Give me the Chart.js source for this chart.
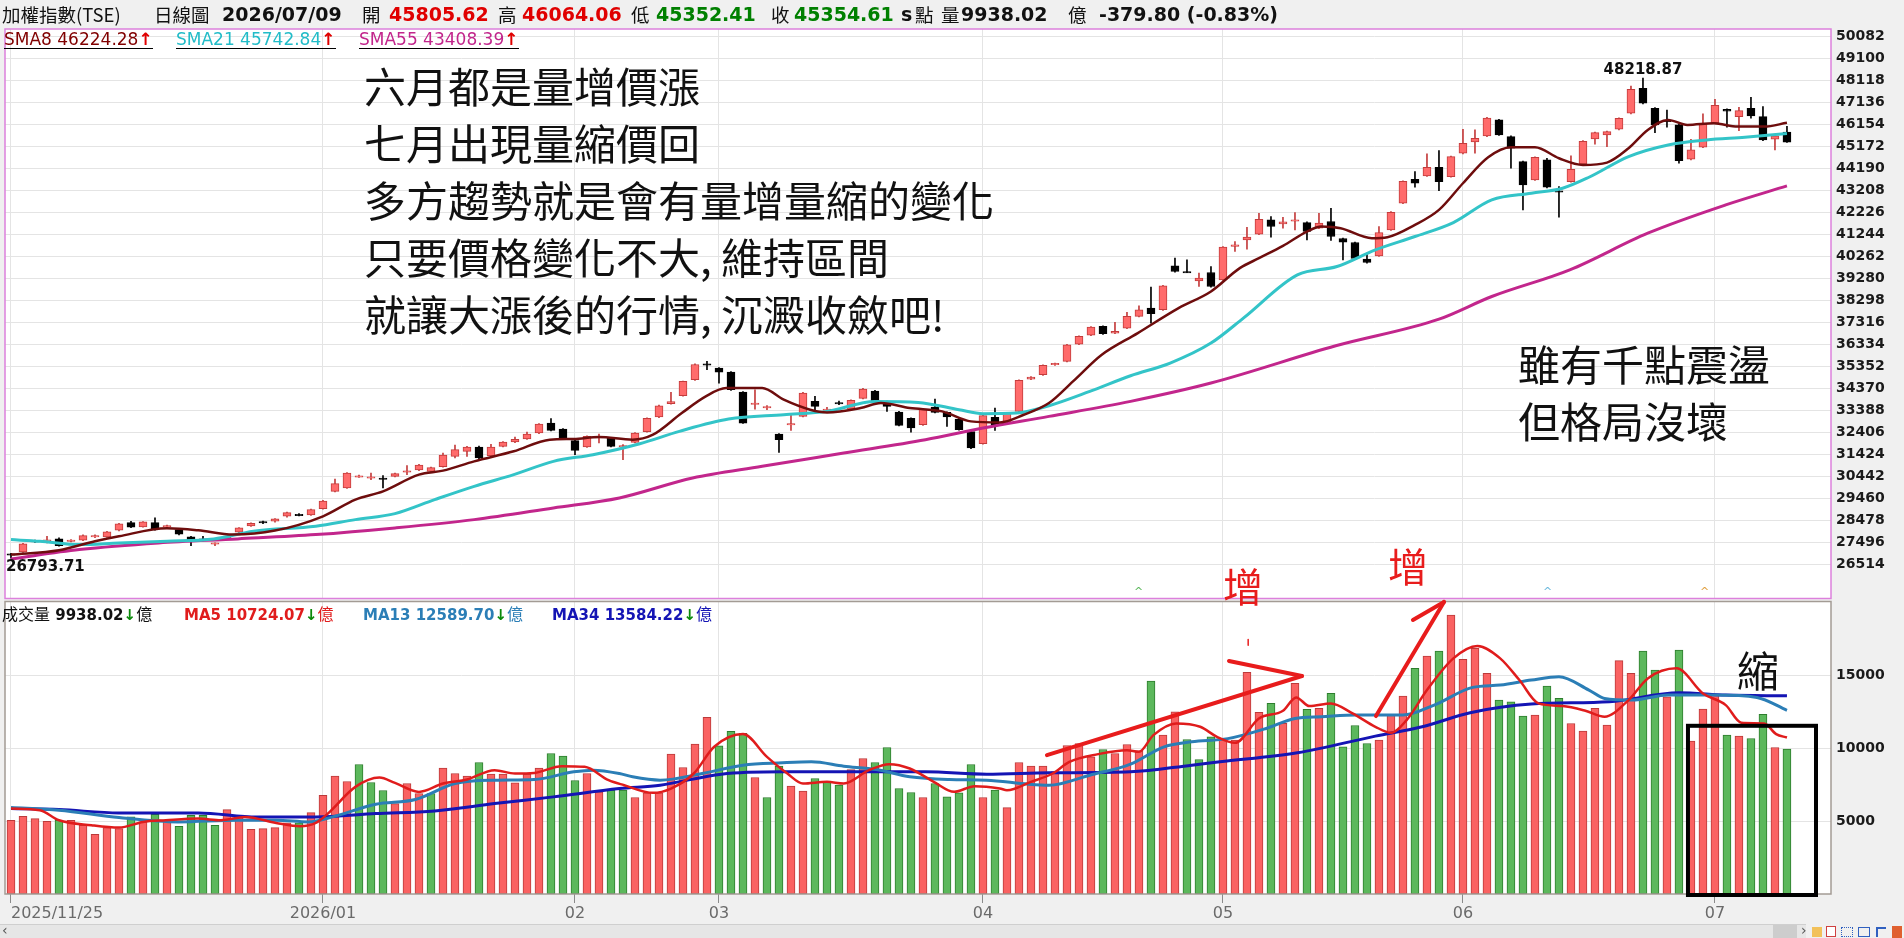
<!DOCTYPE html>
<html><head><meta charset="utf-8">
<script src="https://cdn.jsdelivr.net/npm/chart.js@4.4.1/dist/chart.umd.min.js"></script>
<style>
html,body{margin:0;padding:0;background:#f0f0f0;width:1904px;height:938px;overflow:hidden;font-family:'DejaVu Sans',sans-serif;}
.abs{position:absolute;white-space:nowrap;}
#c1{position:absolute;left:0;top:26px;}
#c2{position:absolute;left:0;top:598px;}
.hdr{position:absolute;top:3px;font-size:18.5px;line-height:22px;white-space:nowrap;color:#111;}
.cjk{font-family:'Noto Sans CJK TC','DejaVu Sans',sans-serif;}
.b{font-family:'DejaVu Sans',sans-serif;font-weight:bold;font-size:19px;}
.big{position:absolute;font-family:'Noto Sans CJK TC',sans-serif;font-size:42px;line-height:42px;color:#111;white-space:nowrap;}
.leg{position:absolute;top:31px;font-size:17px;line-height:17px;border-bottom:1.5px solid #000;white-space:nowrap;font-family:'DejaVu Sans',sans-serif;}
.up{color:#e00000;font-weight:bold;}
.vleg{position:absolute;top:604px;font-size:15px;line-height:18px;white-space:nowrap;font-weight:bold;font-family:'DejaVu Sans',sans-serif;}
.dn{color:#0a8a0a;font-weight:bold;}
.yi{font-family:'Noto Sans CJK TC',sans-serif;font-weight:normal;font-size:16px;}
</style></head>
<body>
<canvas id="c1" width="1904" height="574"></canvas>
<canvas id="c2" width="1904" height="326"></canvas>

<!-- header -->
<div class="hdr cjk" style="left:2px">加權指數(TSE)</div>
<div class="hdr cjk" style="left:154px">日線圖</div>
<div class="hdr b" style="left:222px">2026/07/09</div>
<div class="hdr cjk" style="left:362px">開</div>
<div class="hdr b" style="left:389px;color:#e00000">45805.62</div>
<div class="hdr cjk" style="left:498px">高</div>
<div class="hdr b" style="left:522px;color:#e00000">46064.06</div>
<div class="hdr cjk" style="left:631px">低</div>
<div class="hdr b" style="left:656px;color:#008000">45352.41</div>
<div class="hdr cjk" style="left:771px">收</div>
<div class="hdr b" style="left:794px;color:#008000">45354.61</div>
<div class="hdr b" style="left:901px">s</div>
<div class="hdr cjk" style="left:915px">點</div>
<div class="hdr cjk" style="left:941px">量</div>
<div class="hdr b" style="left:961px">9938.02</div>
<div class="hdr cjk" style="left:1068px">億</div>
<div class="hdr b" style="left:1099px">-379.80 (-0.83%)</div>

<!-- price legend -->
<div class="leg" style="left:4px;color:#800000">SMA8 46224.28<span class="up">↑</span></div>
<div class="leg" style="left:176px;color:#22bcc8">SMA21 45742.84<span class="up">↑</span></div>
<div class="leg" style="left:359px;color:#c2268c">SMA55 43408.39<span class="up">↑</span></div>

<!-- volume legend -->
<div class="vleg" style="left:2px;color:#111"><span class="yi">成交量</span> 9938.02<span class="dn">↓</span><span class="yi">億</span></div>
<div class="vleg" style="left:184px;color:#e01c1c">MA5 10724.07<span class="dn">↓</span><span class="yi">億</span></div>
<div class="vleg" style="left:363px;color:#2b7eb6">MA13 12589.70<span class="dn">↓</span><span class="yi">億</span></div>
<div class="vleg" style="left:552px;color:#1414b4">MA34 13584.22<span class="dn">↓</span><span class="yi">億</span></div>

<!-- annotations -->
<div class="big" style="left:364px;top:64px">六月都是量增價漲</div>
<div class="big" style="left:364px;top:121px">七月出現量縮價回</div>
<div class="big" style="left:364px;top:178px">多方趨勢就是會有量增量縮的變化</div>
<div class="big" style="left:364px;top:235px">只要價格變化不大, 維持區間</div>
<div class="big" style="left:364px;top:292px">就讓大漲後的行情, 沉澱收斂吧!</div>
<div class="big" style="left:1518px;top:342px">雖有千點震盪</div>
<div class="big" style="left:1518px;top:399px">但格局沒壞</div>
<div class="big" style="left:1223px;top:565px;font-size:40px;line-height:40px;color:#e81c1c">增</div>
<div class="big" style="left:1388px;top:545px;font-size:40px;line-height:40px;color:#e81c1c">增</div>
<div class="big" style="left:1737px;top:648px">縮</div>
<div class="abs" style="left:1134px;top:585px;font-size:11px;color:#5cb85c">^</div>
<div class="abs" style="left:1543px;top:585px;font-size:11px;color:#6ab8dc">^</div>
<div class="abs" style="left:1700px;top:585px;font-size:11px;color:#e0a040">^</div>

<!-- scrollbar -->
<div class="abs" style="left:0;top:924px;width:1806px;height:14px;background:#e6e6e6;border-top:1px solid #cfcfcf"></div>
<div class="abs" style="left:2px;top:922px;font-size:14px;color:#555">‹</div>
<div class="abs" style="left:1773px;top:925px;width:24px;height:13px;background:#cdcdcd"></div>
<div class="abs" style="left:1801px;top:922px;font-size:14px;color:#555">›</div>
<div class="abs" style="left:1812px;top:927px;width:10px;height:10px;background:#f2c15a"></div>
<div class="abs" style="left:1826px;top:926px;width:10px;height:11px;border:1px solid #d04040;box-sizing:border-box;background:#fff"></div>
<div class="abs" style="left:1841px;top:927px;width:12px;height:10px;border:1px dotted #3060c0;box-sizing:border-box"></div>
<div class="abs" style="left:1858px;top:927px;width:12px;height:10px;border:1px solid #3060c0;box-sizing:border-box"></div>
<div class="abs" style="left:1876px;top:927px;width:10px;height:10px;border-left:2px solid #3060c0;border-top:2px solid #3060c0;box-sizing:border-box"></div>
<div class="abs" style="left:1892px;top:926px;width:10px;height:12px;background:#e06030"></div>

<script>
// ---------------- DATA ----------------
const tickIdx = [0, 26, 47, 59, 81, 101, 121, 142];
const tickLabels = ['2025/11/25', '2026/01', '02', '03', '04', '05', '06', '07'];
const priceTicks = [50082,49100,48118,47136,46154,45172,44190,43208,42226,41244,40262,39280,38298,37316,36334,35352,34370,33388,32406,31424,30442,29460,28478,27496,26514];
const volTicks = [5000, 10000, 15000];

// [open, high, low, close]
const ohlc = [
[26980,27010,26793.71,26930],[27069,27450,27050,27426],[27560,27600,27490,27530],[27560,27768,27470,27590],[27649,27700,27330,27352],
[27550,27620,27520,27590],[27590,27830,27570,27798],[27750,27830,27700,27780],[27738,27990,27720,27961],[28035,28340,28010,28318],
[28377,28440,28150,28169],[28184,28420,28170,28407],[28377,28586,28040,28065],[28190,28270,28170,28230],[28065,28080,27830,27857],
[27738,27760,27352,27545],[27640,27768,27560,27610],[27430,27480,27352,27450],[27680,27720,27640,27700],[27946,28160,27930,28140],
[28229,28370,28210,28348],[28400,28450,28330,28385],[28437,28560,28400,28541],[28660,28850,28620,28824],[28730,28780,28680,28715],
[28720,28980,28700,28957],[29002,29370,28980,29344],[29775,30325,29750,30117],[29924,30610,29900,30593],[30420,30500,30390,30460],
[30380,30593,30296,30410],[30370,30474,29924,30310],[30444,30590,30420,30563],[30640,30920,30519,30680],[30727,30980,30700,30950],
[30667,30860,30640,30831],[30876,31485,30850,31396],[31337,31842,31262,31634],[31560,31780,31337,31753],[31753,31790,31230,31262],
[31366,31872,31340,31753],[31783,32000,31760,31976],[31976,32199,31950,32095],[32110,32422,32090,32333],[32378,32800,32350,32779],
[32824,33017,32470,32496],[32556,32580,32110,32140],[32036,32060,31411,31604],[31753,32250,31730,32229],[32170,32333,31932,32200],
[32140,32170,31760,31782],[31770,31856,31187,31800],[31960,32400,31940,32376],[32436,33050,32410,33031],[33090,33620,33060,33596],
[33685,34190,33660,33775],[34042,34700,34020,34681],[34755,35460,34730,35435],[35450,35573,35201,35430],[35276,35300,34607,35097],
[35097,35120,34280,34309],[34205,34230,32800,32822],[33660,34309,33447,33700],[33510,33600,33420,33550],[32331,32350,31514,32079],
[32740,33194,32495,32790],[33120,34190,33090,34161],[33789,34012,33417,33566],[33400,33520,33300,33430],[33720,33800,33640,33690],
[33447,33860,33420,33833],[33923,34370,33900,34339],[34250,34280,33760,33789],[33744,33800,33343,33566],[33313,33340,32690,32718],
[33031,33060,32420,32600],[32748,33470,32720,33447],[33536,33893,33270,33298],[33298,33320,32674,33090],[33001,33030,32500,32525],
[32436,32460,31680,31707],[31900,33180,31880,33150],[33075,33492,32495,32718],[32793,33298,32770,33268],[33343,34750,33320,34726],
[34785,34900,34760,34874],[34979,35420,34950,35395],[35440,35500,35400,35470],[35574,36340,35550,36317],[36347,36710,36320,36689],
[36748,37130,36720,37105],[37135,37160,36780,36808],[36837,37313,36810,36912],[37060,37759,37030,37581],[37581,38056,37560,37878],
[37953,38889,37283,37700],[37878,38970,37850,38949],[39841,40183,39560,39588],[39560,40109,39530,39544],[39172,39514,38919,39291],
[39544,39811,38890,38919],[39216,40700,39190,40674],[40702,40925,40479,40776],[41000,41564,40583,41118],[41252,42189,41230,41921],
[41891,42040,41118,41594],[41713,42010,41520,41802],[41840,42219,41445,41880],[41772,41800,40999,41371],[41520,42189,41500,41743],
[41817,42412,40969,41148],[41059,41080,40107,40895],[40880,40900,40140,40166],[40136,40404,39960,39988],[40285,41594,40260,41326],
[41445,42260,41420,42233],[42635,43640,42610,43616],[43705,44048,43349,43527],[43854,44835,43830,44240],[44240,44984,43200,43601],
[43824,44740,43800,44716],[44865,45936,44840,45311],[45371,45906,44865,45534],[45638,46470,45610,46441],[46352,46380,45660,45683],
[45609,45640,44196,45088],[44493,44520,42337,43453],[43676,44710,43650,44686],[44568,44642,43320,43349],[43170,43378,42010,43140],
[43601,44746,43580,44151],[44389,45430,44360,45400],[45504,45810,45266,45787],[45683,45860,45163,45832],[45936,46450,45910,46426],
[46650,47869,46620,47720],[47765,48218.87,47070,47096],[46872,46900,45787,46129],[46330,46798,46025,46290],[46129,46160,44419,44538],
[44597,45490,44570,45014],[45133,46620,45110,46204],[46233,47274,46210,47007],[46828,46850,46025,46739],[46501,46917,45877,46769],
[46872,47363,46426,46531],[46501,46947,45430,45460],[45490,45660,45014,45638],[45805.62,46064.06,45352.41,45354.61]
];

const volume = [
5056,5330,5170,4987,5056,5056,4713,4095,4553,4484,
5284,4941,5467,5056,4644,5399,5399,4713,5788,5284,
4438,4484,4553,4873,4873,5582,6772,8076,7710,8877,
7641,7092,6200,7572,6886,6886,8625,8259,8076,9014,
8213,8213,7618,8213,8625,9632,9449,7779,8259,7000,
7100,7115,6612,6932,6932,9587,8672,10273,12103,10158,
11142,11005,7985,6612,8763,7390,7047,7916,7687,7459,
8534,9289,9015,10044,7230,6955,6612,7573,6658,6932,
8877,6612,7115,5926,9015,8763,8763,8400,10182,10318,
9403,9907,9632,10250,9815,14597,10890,12492,10593,9221,
10776,10650,10547,15191,12446,13063,11700,14436,12652,12720,
13750,10089,11553,10318,10547,12263,13567,15466,16312,16656,
19127,16083,16838,15123,13292,13177,12194,12263,14253,13407,
11690,11164,12720,11576,15992,15123,16656,15351,13521,16724,
10478,12675,13636,10890,10821,10661,12309,10043,9938.02
];
// 1 = volume bar red (up), 0 = green (down)
const volUp = [
1,1,1,1,0,1,1,1,1,1, 0,1,0,1,0,0,0,0,1,1, 1,1,1,1,0,1,1,1,1,0, 0,0,1,1,1,0,1,1,1,0,
1,1,1,1,1,0,0,0,1,1, 0,0,1,1,1,1,1,1,1,0, 0,0,1,0,0,1,1,0,0,0, 1,1,0,0,0,0,1,0,0,0,
0,1,0,1,1,1,1,1,1,1, 1,0,1,1,1,0,1,1,0,0, 0,1,1,1,1,0,1,1,0,1, 0,0,0,0,1,1,1,0,1,0,
1,1,1,1,0,0,0,1,0,0, 1,1,1,1,1,1,0,0,1,0, 1,1,1,0,1,0,0,1,0
];

// moving-average lines: [bar index, value]
const sma8 = [[0,26950],[4,27143],[7,27545],[9,27768],[13,28125],[15.6,28035],[18.5,27842],[22,28021],[26,28660],[28.7,29403],[31,29775],[34,30519],[36,30697],[38.6,31113],[41.9,31560],[44.9,32080],[46.9,32110],[49,32199],[51.8,32079],[53.5,32302],[55.9,33268],[57.9,34012],[59.6,34384],[62.6,34384],[64.4,33863],[66.6,33417],[68,33298],[70.8,33492],[72.5,33715],[74.9,33492],[77.6,33343],[80,32897],[82.4,32852],[84.4,33194],[86.5,33715],[88.5,34681],[90.9,35871],[93.9,36837],[97.3,37953],[100,38696],[102.4,39737],[104,40181],[106,40731],[108,41371],[109.2,41594],[110.8,41520],[113.4,41073],[114.7,41118],[117,41668],[119,42337],[121,43527],[123.1,44687],[125,45133],[127,45133],[129,44642],[131,44345],[133,44449],[134.8,45088],[136.4,45906],[138.1,46352],[139.7,46129],[141.9,46204],[143.9,46055],[146.1,46055],[148,46224.28]];
const sma21 = [[0,27619],[2.4,27545],[5.7,27396],[9,27470],[13,27545],[16.9,27649],[20.2,27991],[25.4,28214],[28.7,28511],[32,28779],[35.3,29403],[38.6,29998],[41.9,30519],[45.2,31113],[48.5,31411],[52.4,31900],[55.7,32451],[59.8,33001],[64.4,33194],[68,33343],[72,33789],[75.6,33744],[79,33417],[81,33239],[83.8,33268],[86.5,33596],[89.9,34235],[93.3,34934],[96.6,35499],[100,36391],[102.7,37505],[107.2,39438],[110.5,39809],[113.7,40553],[117,41148],[120.2,41772],[123.4,42784],[126.7,43081],[129.3,43304],[131.5,43794],[134.8,44716],[138.1,45237],[141.3,45460],[144.5,45579],[148,45742.84]];
const sma55 = [[0,26756],[5.7,27173],[12.3,27470],[18.9,27649],[25.4,27842],[32,28140],[38.6,28511],[45.2,29032],[50.7,29478],[56.8,30368],[62.6,30889],[69.4,31484],[76.2,32079],[81,32599],[86.5,33120],[93.3,33789],[100,34607],[110.4,36270],[119,37460],[123.4,38471],[129.9,39661],[136.4,41297],[142.9,42561],[148,43408.39]];
const ma5 = [[0,5857],[2.4,5742],[4,5056],[6.7,4713],[9,4553],[11,4941],[12.9,5056],[15.6,5170],[17.5,5056],[19.5,5284],[22.1,4873],[24.1,4644],[25.4,4873],[26.4,5513],[28.7,7344],[30.7,7984],[32,7618],[34,7000],[36,7572],[38,7847],[40.3,8488],[42,8259],[43.6,8300],[45.9,8763],[47.8,8717],[49.8,7801],[51.1,7459],[53.5,6932],[55,7230],[56.9,8260],[58.6,10090],[61,10959],[63,9403],[64.7,8260],[66,7573],[68,7687],[69.4,7573],[71.5,8488],[73.2,8900],[74.9,8603],[76.9,7687],[78.6,7001],[80.3,7390],[82.4,7230],[83,7115],[85,7687],[86.8,8260],[88.2,9060],[90.6,9587],[93,9861],[94,9750],[95.2,10890],[97.1,11692],[99.1,11463],[100.5,10776],[102,10364],[104,12034],[106,12560],[107.1,13475],[108.2,12880],[110,13063],[111.8,12377],[113.7,11462],[115,11050],[116.3,11919],[118,13979],[120.2,16152],[122.2,16999],[124.1,16152],[125.7,14665],[127.3,13063],[129.3,12880],[131.2,12560],[132.8,12148],[134.8,13292],[136.4,14779],[138.8,15466],[141,13750],[142.9,12949],[144.2,11737],[146.1,11690],[147.1,10959],[148,10724.07]];
const ma13 = [[0,5925],[4,5742],[9,5239],[13.9,4941],[18.9,5056],[22.1,5056],[24.8,4941],[26.8,5284],[30.4,6154],[33.7,6474],[37,7572],[40.3,7801],[43.6,7847],[46.9,8373],[48.5,8488],[50.7,8259],[51.8,8031],[54.1,7801],[57.6,8260],[61,8832],[64.3,8992],[66.7,9060],[69.4,8763],[72.1,8534],[74.9,8031],[78.2,7847],[81.3,7801],[84.8,7527],[86.5,7459],[89.9,8145],[93.3,8900],[96.1,10090],[98.4,10433],[101.4,10650],[104.6,11347],[107,12034],[109.2,12148],[112.1,12263],[116,12263],[118.6,12949],[121.8,14162],[124.1,14322],[126.7,14665],[129,14894],[131.5,13979],[132.8,13407],[135.1,13292],[138.1,13636],[141.9,13636],[145.5,13475],[148,12589.70]];
const ma34 = [[0,5857],[4,5788],[9,5559],[15.6,5559],[20.5,5284],[25.4,5284],[30.4,5513],[35.3,5696],[40.3,6200],[45.2,6658],[50.7,7229],[54.1,7459],[59.2,8214],[64.3,8374],[69.4,8374],[76.2,8374],[81.3,8214],[86.5,8306],[93.3,8374],[98.4,8832],[100.75,9059],[107.2,9677],[113.7,10821],[117.6,11462],[121.6,12423],[126.7,13017],[133.2,13178],[139,13796],[142.9,13636],[148,13584.22]];

// hand-drawn pen marks on the volume panel, in data units [bar index, volume]
const penLines = [
  [[86.33, 9519], [107.58, 14941]],
  [[101.5, 15971], [107.58, 14941]],
  [[113.75, 12196], [119.42, 20019]],
  [[116.83, 18784], [119.42, 20019]]
];
const penBox = {x0: 139.75, x1: 150.42, top: 11530};

// ---------------- CHARTS ----------------
const X_MIN = -0.5, X_MAX = 151.67;
const toXY = arr => arr.map(p => ({x: p[0], y: p[1]}));
const isUp = ohlc.map(d => d[3] >= d[0]);
const bodies = ohlc.map((d, i) => {
  const lo = Math.min(d[0], d[3]), hi = Math.max(d[0], d[3]);
  const m = (lo + hi) / 2;
  return {x: i, y: (hi - lo < 60) ? [m - 30, m + 30] : [lo, hi]};
});
const wicks = ohlc.map((d, i) => ({x: i, y: [d[2], d[1]]}));

function panelPlugin(border) {
  return {
    id: 'panel',
    beforeDraw(chart) {
      const {ctx, chartArea: a} = chart;
      ctx.save(); ctx.fillStyle = '#fff';
      ctx.fillRect(a.left, a.top, a.right - a.left, a.bottom - a.top);
      ctx.restore();
    },
    afterDraw(chart) {
      const {ctx, chartArea: a} = chart;
      ctx.save(); ctx.strokeStyle = border; ctx.lineWidth = 1.5;
      ctx.strokeRect(a.left, a.top, a.right - a.left, a.bottom - a.top);
      ctx.restore();
    }
  };
}

const extremesPlugin = {
  id: 'extremes',
  afterDatasetsDraw(chart) {
    const {ctx, scales: {x, y}} = chart;
    let hi = 0, lo = 0;
    ohlc.forEach((d, i) => { if (d[1] > ohlc[hi][1]) hi = i; if (d[2] < ohlc[lo][2]) lo = i; });
    ctx.save();
    ctx.font = 'bold 15px "DejaVu Sans"';
    ctx.fillStyle = '#111';
    ctx.textBaseline = 'middle';
    ctx.textAlign = 'center';
    ctx.fillText(ohlc[hi][1].toFixed(2), x.getPixelForValue(hi), y.getPixelForValue(ohlc[hi][1]) - 8);
    ctx.textAlign = 'left';
    ctx.fillText(ohlc[lo][2].toFixed(2), x.getPixelForValue(lo) - 5, y.getPixelForValue(ohlc[lo][2]) + 9);
    ctx.restore();
  }
};

const penPlugin = {
  id: 'pen',
  afterDraw(chart) {
    const {ctx, chartArea: a, scales: {x, y}} = chart;
    ctx.save();
    ctx.strokeStyle = '#e81c1c'; ctx.lineWidth = 4; ctx.lineCap = 'round';
    penLines.forEach(l => {
      ctx.beginPath();
      ctx.moveTo(x.getPixelForValue(l[0][0]), y.getPixelForValue(l[0][1]));
      ctx.lineTo(x.getPixelForValue(l[1][0]), y.getPixelForValue(l[1][1]));
      ctx.stroke();
    });
    ctx.lineWidth = 1.5;
    ctx.beginPath();
    ctx.moveTo(x.getPixelForValue(103.1), y.getPixelForValue(17450));
    ctx.lineTo(x.getPixelForValue(103.1), y.getPixelForValue(17050));
    ctx.stroke();
    ctx.strokeStyle = '#000'; ctx.lineWidth = 4; ctx.lineCap = 'butt';
    const l = x.getPixelForValue(penBox.x0), r = x.getPixelForValue(penBox.x1), t = y.getPixelForValue(penBox.top);
    ctx.strokeRect(l, t, r - l, a.bottom + 1 - t);
    ctx.restore();
  }
};

const xGridColor = c => (c.index >= tickIdx.length ? 'rgba(0,0,0,0)' : '#e4e4e4');
const xTickColor = c => (c.index >= tickIdx.length ? 'rgba(0,0,0,0)' : '#8a8a8a');
const noPadY = s => { s.width = 73; s.paddingTop = 0; s.paddingBottom = 0; };

new Chart(document.getElementById('c1'), {
  type: 'bar',
  data: {
    datasets: [
      {type: 'line', data: toXY(sma8), borderColor: '#6e0d0d', borderWidth: 2.5, pointRadius: 0, cubicInterpolationMode: 'monotone', order: 0},
      {type: 'line', data: toXY(sma21), borderColor: '#33c4c8', borderWidth: 3, pointRadius: 0, cubicInterpolationMode: 'monotone', order: 1},
      {type: 'line', data: toXY(sma55), borderColor: '#c2268c', borderWidth: 3, pointRadius: 0, cubicInterpolationMode: 'monotone', order: 2},
      {type: 'bar', data: bodies, barThickness: 8, grouped: false, borderSkipped: false, borderWidth: 1,
        backgroundColor: isUp.map(u => u ? '#ff6b6b' : '#000'), borderColor: isUp.map(u => u ? '#c43c3c' : '#000'), order: 3},
      {type: 'bar', data: wicks, barThickness: 1, grouped: false, borderWidth: 0,
        backgroundColor: isUp.map(u => u ? '#c43c3c' : '#000'), order: 4}
    ]
  },
  options: {
    responsive: false, animation: false, devicePixelRatio: 1,
    layout: {padding: {left: 5, right: 0, top: 3, bottom: 1.5}},
    plugins: {legend: {display: false}, tooltip: {enabled: false}},
    scales: {
      x: {type: 'linear', min: X_MIN, max: X_MAX, offset: false,
        afterBuildTicks: s => { s.ticks = tickIdx.map(v => ({value: v})); },
        afterFit: s => { s.height = 0; s.paddingLeft = 0; s.paddingRight = 0; },
        ticks: {display: false},
        grid: {color: '#e4e4e4', drawTicks: false, offset: false},
        border: {display: false}},
      y: {position: 'right', min: 24990, max: 50412,
        afterBuildTicks: s => { s.ticks = priceTicks.map(v => ({value: v})); },
        afterFit: noPadY,
        ticks: {padding: 5, color: '#1a1a1a', font: {family: 'DejaVu Sans', weight: 'bold', size: 14}, callback: v => String(v)},
        grid: {color: '#e4e4e4', drawTicks: false},
        border: {display: false}}
    }
  },
  plugins: [panelPlugin('#dc80dc'), extremesPlugin]
});

new Chart(document.getElementById('c2'), {
  type: 'bar',
  data: {
    datasets: [
      {type: 'line', data: toXY(ma5), borderColor: '#e01c1c', borderWidth: 2.5, pointRadius: 0, cubicInterpolationMode: 'monotone', order: 0},
      {type: 'line', data: toXY(ma13), borderColor: '#2b7eb6', borderWidth: 3, pointRadius: 0, cubicInterpolationMode: 'monotone', order: 1},
      {type: 'line', data: toXY(ma34), borderColor: '#1414b4', borderWidth: 3, pointRadius: 0, cubicInterpolationMode: 'monotone', order: 2},
      {type: 'bar', data: volume.map((v, i) => ({x: i, y: v})), barThickness: 8, grouped: false, borderSkipped: false, borderWidth: 1,
        backgroundColor: volUp.map(u => u ? '#fa6262' : '#5cb85c'), borderColor: volUp.map(u => u ? '#bb3a3a' : '#2d7d2d'), order: 3}
    ]
  },
  options: {
    responsive: false, animation: false, devicePixelRatio: 1,
    layout: {padding: {left: 5, right: 0, top: 3.5, bottom: 0}},
    plugins: {legend: {display: false}, tooltip: {enabled: false}},
    scales: {
      x: {type: 'linear', min: X_MIN, max: X_MAX, offset: false,
        afterBuildTicks: s => { s.ticks = tickIdx.concat([X_MAX]).map(v => ({value: v})); },
        afterFit: s => { s.height = 30; s.paddingLeft = 0; s.paddingRight = 0; },
        ticks: {autoSkip: false, maxRotation: 0, minRotation: 0, align: 'inner', padding: 1, color: '#6a6a6a',
          font: {family: 'DejaVu Sans', size: 16},
          callback: (v, i) => (i < tickLabels.length ? tickLabels[i] : '')},
        grid: {color: xGridColor, tickColor: xTickColor, tickLength: 9, drawTicks: true, offset: false},
        border: {display: false}},
      y: {position: 'right', min: 0, max: 20050,
        afterBuildTicks: s => { s.ticks = volTicks.map(v => ({value: v})); },
        afterFit: noPadY,
        ticks: {padding: 5, color: '#1a1a1a', font: {family: 'DejaVu Sans', weight: 'bold', size: 14}, callback: v => String(v)},
        grid: {color: '#e4e4e4', drawTicks: false},
        border: {display: false}}
    }
  },
  plugins: [panelPlugin('#a39b94'), penPlugin]
});
</script>
</body></html>
